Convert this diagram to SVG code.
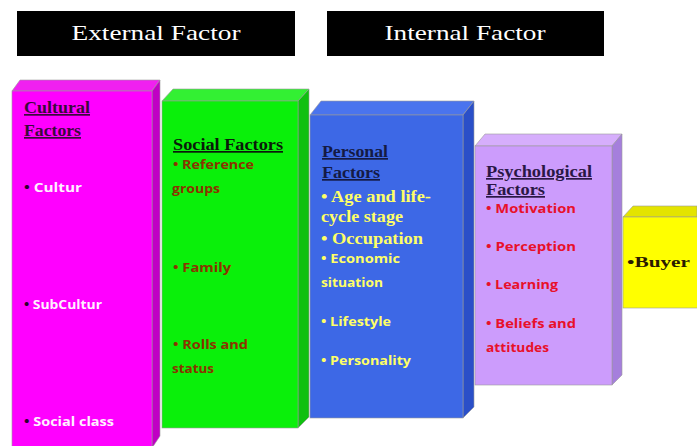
<svg xmlns="http://www.w3.org/2000/svg" width="697" height="446" viewBox="0 0 697 446">
<style>
.hdr{font-family:"Liberation Serif",serif;font-size:22px;fill:#ffffff}
.ttl{font-family:"Liberation Serif",serif;font-size:17px;font-weight:bold;text-decoration:underline}
.itm{font-family:"Open Sans","Liberation Sans",sans-serif;font-size:12px;font-weight:bold}
.itms{font-family:"Liberation Serif",serif;font-size:16px;font-weight:bold}
.edge{stroke:#9a9a9a;stroke-width:0.6}
</style>
<rect width="697" height="446" fill="#ffffff"/>
<g id="external-header">
<rect x="17" y="11" width="278" height="45" fill="#000000"/>
<text class="hdr" x="156" y="40" text-anchor="middle" textLength="169" lengthAdjust="spacingAndGlyphs">External Factor</text>
</g>
<g id="internal-header">
<rect x="327" y="11" width="277" height="45" fill="#000000"/>
<text class="hdr" x="465" y="40" text-anchor="middle" textLength="161" lengthAdjust="spacingAndGlyphs">Internal Factor</text>
</g>
<g id="connectors"></g>
<g id="buyer">
<polygon class="edge" points="623,217 633,206 697,206 697,217" fill="#e4e400"/>
<rect class="edge" x="623" y="217" width="80" height="91" fill="#ffff00"/>
<text x="627" y="267" font-family="Liberation Serif,serif" font-size="15" font-weight="bold" fill="#2a1a00" textLength="63" lengthAdjust="spacingAndGlyphs">•Buyer</text>
</g>
<g id="psychological">
<polygon class="edge" points="475,146 485,134 622,134 612,146" fill="#d6aefc"/>
<polygon class="edge" points="612,146 622,134 622,375 612,385" fill="#a57fdc"/>
<rect class="edge" x="475" y="146" width="137" height="239" fill="#cc9cfc"/>
<text class="ttl" x="486" y="177" fill="#2a1745" textLength="106" lengthAdjust="spacingAndGlyphs">Psychological</text>
<text class="ttl" x="486" y="195" fill="#2a1745" textLength="59" lengthAdjust="spacingAndGlyphs">Factors</text>
<g class="itm" fill="#e8102a">
<text x="486" y="213" textLength="90" lengthAdjust="spacingAndGlyphs">• Motivation</text>
<text x="486" y="251" textLength="90" lengthAdjust="spacingAndGlyphs">• Perception</text>
<text x="486" y="289" textLength="72" lengthAdjust="spacingAndGlyphs">• Learning</text>
<text x="486" y="328" textLength="90" lengthAdjust="spacingAndGlyphs">• Beliefs and</text>
<text x="486" y="352" textLength="63" lengthAdjust="spacingAndGlyphs">attitudes</text>
</g>
</g>
<g id="personal">
<polygon class="edge" points="310,115 321,101 474,101 463,115" fill="#4a74ee"/>
<polygon class="edge" points="463,115 474,101 474,407 463,418" fill="#2a4fc8"/>
<rect class="edge" x="310" y="115" width="153" height="303" fill="#3d68e6"/>
<text class="ttl" x="322" y="157" fill="#141a44" textLength="66" lengthAdjust="spacingAndGlyphs">Personal</text>
<text class="ttl" x="322" y="178" fill="#141a44" textLength="58" lengthAdjust="spacingAndGlyphs">Factors</text>
<g fill="#ffff66">
<text class="itms" x="321" y="202" textLength="110" lengthAdjust="spacingAndGlyphs">• Age and life-</text>
<text class="itms" x="321" y="222" textLength="82" lengthAdjust="spacingAndGlyphs">cycle stage</text>
<text class="itms" x="321" y="244" textLength="102" lengthAdjust="spacingAndGlyphs">• Occupation</text>
<text class="itm" x="321" y="263" textLength="79" lengthAdjust="spacingAndGlyphs">• Economic</text>
<text class="itm" x="321" y="287" textLength="62" lengthAdjust="spacingAndGlyphs">situation</text>
<text class="itm" x="321" y="326" textLength="70" lengthAdjust="spacingAndGlyphs">• Lifestyle</text>
<text class="itm" x="321" y="365" textLength="90" lengthAdjust="spacingAndGlyphs">• Personality</text>
</g>
</g>
<g id="social">
<polygon class="edge" points="162,101 173,89 309,89 298,101" fill="#33f033"/>
<polygon class="edge" points="298,101 309,89 309,417 298,428" fill="#10c010"/>
<rect class="edge" x="162" y="101" width="136" height="327" fill="#0af00a"/>
<text class="ttl" x="173" y="150" fill="#0a1a0a" textLength="110" lengthAdjust="spacingAndGlyphs">Social Factors</text>
<g class="itm" fill="#8a3300">
<text x="173" y="169" textLength="81" lengthAdjust="spacingAndGlyphs">• Reference</text>
<text x="172" y="193" textLength="48" lengthAdjust="spacingAndGlyphs">groups</text>
<text x="173" y="272" textLength="58" lengthAdjust="spacingAndGlyphs">• Family</text>
<text x="173" y="349" textLength="75" lengthAdjust="spacingAndGlyphs">• Rolls and</text>
<text x="172" y="373" textLength="42" lengthAdjust="spacingAndGlyphs">status</text>
</g>
</g>
<g id="cultural">
<polygon class="edge" points="12,91 20,80 160,80 152,91" fill="#f020f0"/>
<polygon class="edge" points="152,91 160,80 160,436 152,448" fill="#c000c4"/>
<rect class="edge" x="12" y="91" width="140" height="360" fill="#ff00ff"/>
<text class="ttl" x="24" y="113" fill="#3a0a3a" textLength="66" lengthAdjust="spacingAndGlyphs">Cultural</text>
<text class="ttl" x="24" y="136" fill="#3a0a3a" textLength="57" lengthAdjust="spacingAndGlyphs">Factors</text>
<g class="itm">
<text x="24" y="192" fill="#fff0ff" textLength="58" lengthAdjust="spacingAndGlyphs"><tspan fill="#2a002a">•</tspan>  Cultur</text>
<text x="24" y="309" fill="#fff0ff" textLength="78" lengthAdjust="spacingAndGlyphs"><tspan fill="#2a002a">•</tspan> SubCultur</text>
<text x="24" y="426" fill="#fff0ff" textLength="90" lengthAdjust="spacingAndGlyphs"><tspan fill="#2a002a">•</tspan> Social class</text>
</g>
</g>
</svg>
